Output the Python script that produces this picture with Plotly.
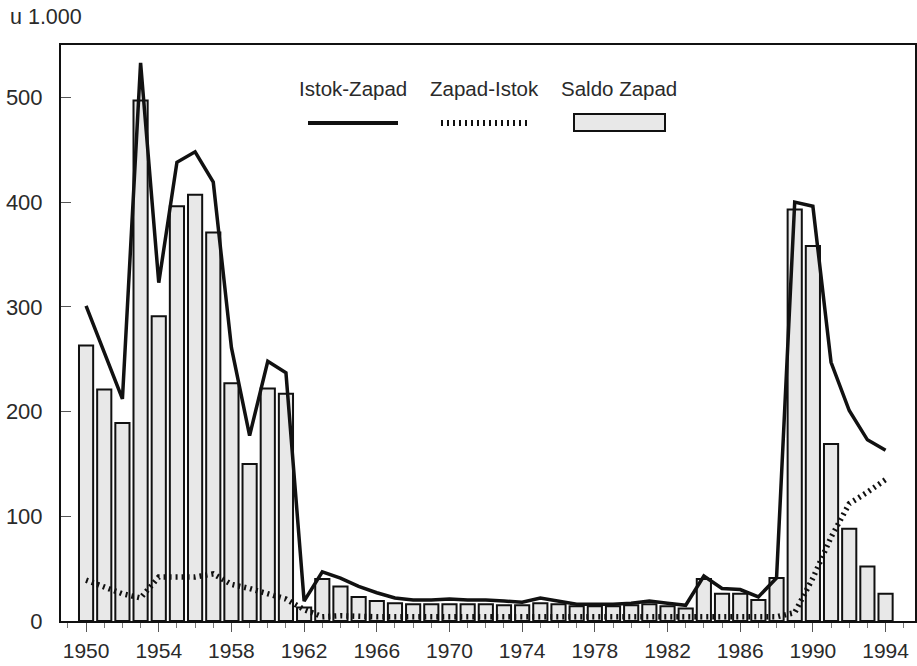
import plotly.graph_objects as go

years = list(range(1950, 1995))

istok_zapad = [301, 256, 212, 533, 323, 438, 448, 419, 261, 177,
               248, 237, 19, 47, 41, 33, 27, 22, 20, 20,
               21, 20, 20, 19, 18, 22, 19, 16, 16, 16,
               17, 19, 17, 15, 43, 31, 30, 23, 41, 400,
               396, 247, 201, 173, 163]

zapad_istok = [39, 32, 26, 22, 42, 42, 42, 45, 35, 31,
               26, 21, 11, 4, 5, 4, 4, 4, 4, 4,
               4, 4, 4, 4, 4, 4, 4, 4, 4, 4,
               4, 4, 4, 4, 5, 5, 5, 4, 4, 8,
               41, 80, 112, 123, 135]

saldo_zapad = [263, 221, 189, 497, 291, 396, 407, 371, 227, 150,
               222, 217, 13, 40, 33, 23, 19, 17, 16, 16,
               16, 16, 16, 15, 15, 17, 16, 14, 14, 14,
               15, 16, 14, 12, 40, 26, 26, 20, 41, 393,
               358, 169, 88, 52, 26]

tick_years = list(range(1950, 1995, 4))
y_ticks = [0, 100, 200, 300, 400, 500]

legend_names = ["Istok-Zapad", "Zapad-Istok", "Saldo Zapad"]

FONT = "Liberation Sans, Arial, sans-serif"
TXT = "#2a2a2a"

fig = go.Figure()
fig.add_trace(go.Bar(
    x=years, y=saldo_zapad, name=legend_names[2], width=0.78,
    marker=dict(color="#e8e8e8", line=dict(color="#111111", width=2)),
))
fig.add_trace(go.Scatter(
    x=years, y=zapad_istok, name=legend_names[1], mode="lines",
    line=dict(color="#111111", width=5.5, dash="2px,4px"),
))
fig.add_trace(go.Scatter(
    x=years, y=istok_zapad, name=legend_names[0], mode="lines",
    line=dict(color="#111111", width=3.5),
))

W, H = 917, 666
L, R, T, B = 61, 2, 45, 45
pw, ph = W - L - R, H - T - B

def px(x):
    return (x - L) / pw

def py(y):
    return (H - B - y) / ph

annotations = [
    dict(text="u 1.000", x=px(8), y=py(17), xref="paper", yref="paper",
         xanchor="left", yanchor="middle", showarrow=False,
         font=dict(size=21.5, color=TXT, family=FONT)),
]
legend_x = [353, 484, 619]
for name, cx in zip(legend_names, legend_x):
    annotations.append(dict(text=name, x=px(cx), y=py(89), xref="paper", yref="paper",
                            xanchor="center", yanchor="middle", showarrow=False,
                            font=dict(size=20.5, color=TXT, family=FONT)))

shapes = [
    dict(type="line", xref="paper", yref="paper", x0=px(308), x1=px(398),
         y0=py(123), y1=py(123), line=dict(color="#111111", width=4)),
    dict(type="line", xref="paper", yref="paper", x0=px(441), x1=px(531),
         y0=py(123), y1=py(123), line=dict(color="#111111", width=6, dash="2px,4px")),
    dict(type="rect", xref="paper", yref="paper", x0=px(574), x1=px(665),
         y0=py(131), y1=py(114), fillcolor="#e8e8e8", line=dict(color="#111111", width=2)),
]

fig.update_layout(
    width=W, height=H,
    margin=dict(l=L, r=R, t=T, b=B, autoexpand=False),
    paper_bgcolor="white", plot_bgcolor="white",
    showlegend=False,
    bargap=0.22,
    font=dict(family=FONT, size=21, color=TXT),
    annotations=annotations,
    shapes=shapes,
)
fig.update_xaxes(
    range=[1948.62, 1995.62],
    tickvals=tick_years, ticktext=[str(y) for y in tick_years],
    ticks="outside", ticklen=9, tickwidth=1, tickcolor="#555",
    minor=dict(dtick=1, tick0=1950, ticks="outside", ticklen=5, tickcolor="#777", tickwidth=1),
    showgrid=False, zeroline=False,
    showline=True, linecolor="#111", linewidth=2, mirror=True,
    tickfont=dict(size=21, family=FONT, color=TXT),
    ticklabelstandoff=1,
)
fig.update_yaxes(
    range=[0, 550],
    tickvals=y_ticks,
    ticks="inside", ticklen=10, tickwidth=1, tickcolor="#555",
    showgrid=False, zeroline=False,
    showline=True, linecolor="#111", linewidth=2, mirror=True,
    tickfont=dict(size=22, family=FONT, color=TXT),
    ticklabelstandoff=12,
)

fig.write_html("out.html", config={"displayModeBar": False},
               post_script="document.body.style.margin='0px';document.body.style.padding='0px';")
